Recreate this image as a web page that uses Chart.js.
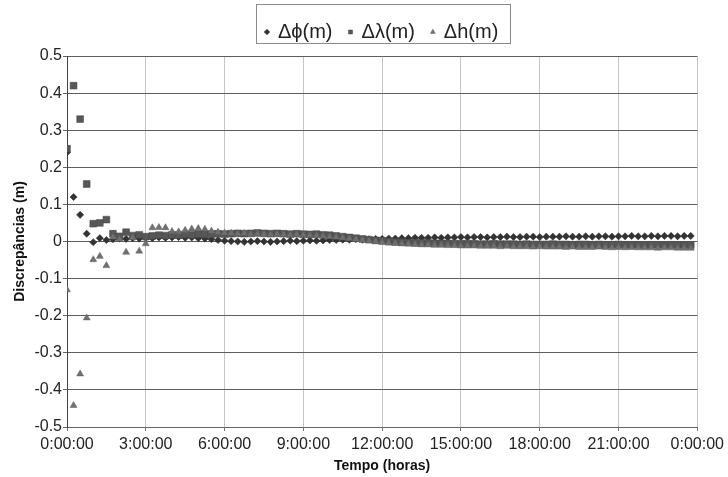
<!DOCTYPE html>
<html>
<head>
<meta charset="utf-8">
<script src="https://cdn.jsdelivr.net/npm/chart.js@4/dist/chart.umd.min.js"></script>
<style>
  html, body { margin: 0; padding: 0; background: #ffffff; }
  canvas { display: block; }
</style>
</head>
<body>
<canvas id="chart" width="728" height="477"></canvas>
<script>
// Sample times (hours since start), one solution every 15 minutes
const timesH = [
  0, 0.25, 0.5, 0.75, 1, 1.25, 1.5, 1.75, 2, 2.25, 2.5, 2.75,
  3, 3.25, 3.5, 3.75, 4, 4.25, 4.5, 4.75, 5, 5.25, 5.5, 5.75,
  6, 6.25, 6.5, 6.75, 7, 7.25, 7.5, 7.75, 8, 8.25, 8.5, 8.75,
  9, 9.25, 9.5, 9.75, 10, 10.25, 10.5, 10.75, 11, 11.25, 11.5, 11.75,
  12, 12.25, 12.5, 12.75, 13, 13.25, 13.5, 13.75, 14, 14.25, 14.5, 14.75,
  15, 15.25, 15.5, 15.75, 16, 16.25, 16.5, 16.75, 17, 17.25, 17.5, 17.75,
  18, 18.25, 18.5, 18.75, 19, 19.25, 19.5, 19.75, 20, 20.25, 20.5, 20.75,
  21, 21.25, 21.5, 21.75, 22, 22.25, 22.5, 22.75, 23, 23.25, 23.5, 23.75
];

// Δφ (m) – latitude discrepancy
const dPhi = [
  0.240, 0.120, 0.072, 0.021, -0.002, 0.009, 0.004, 0.006, 0.008, 0.007, 0.009, 0.008,
  0.010, 0.009, 0.011, 0.010, 0.011, 0.012, 0.010, 0.011, 0.009, 0.008, 0.006, 0.004,
  0.002, 0.001, 0.000, -0.001, 0.000, 0.001, 0.000, -0.001, 0.000, 0.001, 0.002, 0.001,
  0.002, 0.003, 0.002, 0.003, 0.004, 0.004, 0.005, 0.005, 0.006, 0.005, 0.006, 0.007,
  0.007, 0.008, 0.008, 0.009, 0.009, 0.010, 0.010, 0.010, 0.011, 0.010, 0.011, 0.011,
  0.012, 0.011, 0.012, 0.012, 0.011, 0.012, 0.012, 0.013, 0.012, 0.012, 0.013, 0.013,
  0.012, 0.013, 0.013, 0.013, 0.014, 0.013, 0.013, 0.014, 0.013, 0.014, 0.014, 0.013,
  0.014, 0.014, 0.015, 0.014, 0.014, 0.015, 0.014, 0.015, 0.015, 0.014, 0.015, 0.015
];

// Δλ (m) – longitude discrepancy
const dLambda = [
  0.250, 0.420, 0.330, 0.155, 0.048, 0.050, 0.059, 0.021, 0.014, 0.025, 0.016, 0.018,
  0.013, 0.015, 0.017, 0.016, 0.018, 0.017, 0.019, 0.018, 0.020, 0.019, 0.020, 0.021,
  0.020, 0.021, 0.022, 0.021, 0.022, 0.023, 0.022, 0.021, 0.022, 0.021, 0.020, 0.021,
  0.020, 0.019, 0.020, 0.018, 0.017, 0.015, 0.013, 0.011, 0.009, 0.007, 0.005, 0.003,
  0.002, 0.000, -0.001, -0.002, -0.003, -0.003, -0.004, -0.004, -0.005, -0.005, -0.005, -0.006,
  -0.006, -0.006, -0.006, -0.007, -0.007, -0.006, -0.007, -0.007, -0.007, -0.008, -0.007, -0.008,
  -0.008, -0.008, -0.007, -0.008, -0.008, -0.009, -0.008, -0.008, -0.009, -0.008, -0.009, -0.009,
  -0.008, -0.009, -0.009, -0.009, -0.010, -0.009, -0.009, -0.010, -0.009, -0.010, -0.010, -0.010
];

// Δh (m) – height discrepancy
const dH = [
  -0.130, -0.442, -0.357, -0.206, -0.049, -0.040, -0.065, 0.012, 0.006, -0.029, 0.010, -0.026,
  -0.006, 0.037, 0.038, 0.037, 0.027, 0.026, 0.030, 0.034, 0.035, 0.033, 0.028, 0.025,
  0.023, 0.022, 0.021, 0.022, 0.020, 0.021, 0.020, 0.019, 0.020, 0.019, 0.018, 0.019,
  0.018, 0.017, 0.016, 0.015, 0.013, 0.012, 0.010, 0.008, 0.006, 0.004, 0.002, 0.000,
  -0.002, -0.004, -0.005, -0.006, -0.007, -0.008, -0.009, -0.009, -0.010, -0.010, -0.011, -0.011,
  -0.012, -0.012, -0.012, -0.013, -0.013, -0.013, -0.014, -0.013, -0.014, -0.014, -0.014, -0.015,
  -0.014, -0.015, -0.015, -0.015, -0.016, -0.015, -0.016, -0.016, -0.016, -0.015, -0.016, -0.017,
  -0.016, -0.017, -0.016, -0.017, -0.017, -0.017, -0.018, -0.017, -0.017, -0.018, -0.018, -0.018
];

const seriesLabels = ['\u0394\u03d5(m)', '\u0394\u03bb(m)', '\u0394h(m)'];
const xTickHours = [0, 3, 6, 9, 12, 15, 18, 21, 24];
const yTickValues = [-0.5, -0.4, -0.3, -0.2, -0.1, 0, 0.1, 0.2, 0.3, 0.4, 0.5];

const toPoints = (vals) => vals.map((v, i) => ({ x: timesH[i], y: v }));

// Fixed legend band height, plus a thin frame around the legend entries
const LEGEND_BAND = 51;
const legendFrame = {
  id: 'legendFrame',
  beforeLayout(chart) {
    const lg = chart.legend;
    if (lg && !lg._bandFixed) {
      const fit = lg.fit;
      lg.fit = function () {
        fit.call(this);
        this.height = LEGEND_BAND;
      };
      lg._bandFixed = true;
    }
  },
  afterDraw(chart) {
    const lg = chart.legend;
    if (!lg || !lg.legendHitBoxes || !lg.legendHitBoxes.length) return;
    const boxes = lg.legendHitBoxes;
    const l = boxes[0].left - 10;
    const last = boxes[boxes.length - 1];
    const r = last.left + last.width + 12;
    const ctx = chart.ctx;
    ctx.save();
    ctx.strokeStyle = '#8a8a8a';
    ctx.lineWidth = 1;
    ctx.strokeRect(Math.round(l) + 0.5, 4.5, Math.round(r - l), 39);
    ctx.restore();
  }
};

const fontMain = "'Liberation Sans', Arial, sans-serif";
const fontTitle = "'Liberation Sans Narrow', 'Liberation Sans', Arial, sans-serif";

new Chart(document.getElementById('chart'), {
  type: 'scatter',
  data: {
    datasets: [
      {
        label: seriesLabels[0],
        data: toPoints(dPhi),
        pointStyle: 'rectRot',
        pointRadius: 3.6,
        backgroundColor: '#333333',
        borderColor: '#262626',
        borderWidth: 0.5,
        order: 3
      },
      {
        label: seriesLabels[1],
        data: toPoints(dLambda),
        pointStyle: 'rect',
        pointRadius: 4.8,
        backgroundColor: '#575757',
        borderColor: '#444444',
        borderWidth: 0.5,
        order: 2
      },
      {
        label: seriesLabels[2],
        data: toPoints(dH),
        pointStyle: 'triangle',
        pointRadius: 4,
        backgroundColor: '#707070',
        borderColor: '#5e5e5e',
        borderWidth: 0.5,
        order: 1
      }
    ]
  },
  options: {
    responsive: false,
    animation: false,
    devicePixelRatio: 1,
    layout: { padding: { left: 0, right: 30, top: 5, bottom: 0 } },
    plugins: {
      tooltip: { enabled: false },
      legend: {
        display: true,
        position: 'top',
        fullSize: false,
        labels: {
          usePointStyle: true,
          boxWidth: 2,
          boxHeight: 4,
          padding: 17,
          color: '#222222',
          font: { family: fontMain, size: 20 },
          sort: (a, b) => a.datasetIndex - b.datasetIndex
        }
      }
    },
    scales: {
      x: {
        type: 'linear',
        min: 0,
        max: 24,
        afterBuildTicks(scale) {
          scale.ticks = xTickHours.map(v => ({ value: v }));
        },
        afterFit(scale) { scale.height = 50; },
        ticks: {
          padding: 4,
          color: '#222222',
          font: { family: fontMain, size: 16 },
          maxRotation: 0,
          autoSkip: false,
          callback: (v) => (v % 24) + ':00:00'
        },
        grid: {
          color: '#c4c4c4',
          lineWidth: 1,
          tickLength: 4,
          tickColor: '#777777'
        },
        border: { color: '#666666', width: 1 },
        title: {
          display: true,
          text: 'Tempo (horas)',
          color: '#111111',
          font: { family: fontTitle, size: 14, weight: 'bold' },
          padding: { top: 0, bottom: 2 }
        }
      },
      y: {
        min: -0.5,
        max: 0.5,
        afterBuildTicks(scale) {
          scale.ticks = yTickValues.map(v => ({ value: v }));
        },
        afterFit(scale) { scale.width = 67; },
        ticks: {
          padding: 1,
          color: '#222222',
          font: { family: fontMain, size: 16 },
          callback: (v) => String(Number(v.toFixed(1)))
        },
        grid: {
          color: '#5e5e5e',
          lineWidth: 1,
          tickLength: 4,
          tickColor: '#666666'
        },
        border: { color: '#444444', width: 1 },
        title: {
          display: true,
          text: 'Discrep\u00e2ncias (m)',
          color: '#111111',
          font: { family: fontTitle, size: 14, weight: 'bold' },
          padding: { top: 12, bottom: 0 }
        }
      }
    }
  },
  plugins: [legendFrame]
});
</script>
</body>
</html>
